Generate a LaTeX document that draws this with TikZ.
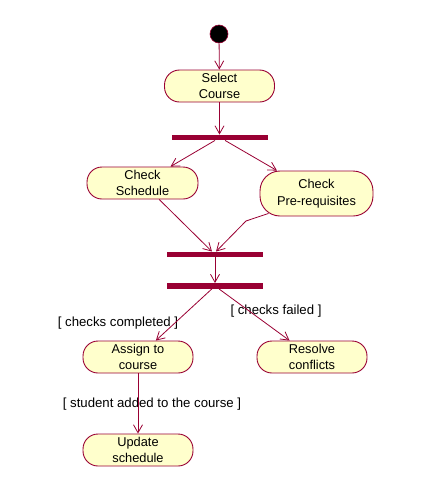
\documentclass[tikz,border=0pt]{standalone}
\usepackage{fontspec}
\setmainfont{Liberation Sans}
\usetikzlibrary{arrows.meta,calc}
\definecolor{umlline}{RGB}{153,0,51}
\definecolor{umlfill}{RGB}{255,255,204}
\begin{document}
\begin{tikzpicture}[x=1pt,y=-1pt,
  act/.style={draw=umlline,fill=umlfill,line width=0.9pt,rectangle,rounded corners=15pt,
    minimum width=110pt,minimum height=32pt,inner sep=0pt,align=center,
    font=\fontsize{12.8}{16.5}\selectfont},
  syncbar/.style={fill=umlline,draw=none,rectangle,minimum width=96pt,minimum height=5.5pt,inner sep=0pt},
  flow/.style={draw=umlline,line width=0.8pt,-{Straight Barb[length=8pt,width=9pt,line width=0.8pt]}},
  guard/.style={font=\fontsize{13.2}{15}\selectfont,inner sep=0pt}]
\useasboundingbox (0,0) rectangle (447,496);
\node[circle,fill=black,draw=umlline,line width=0.6pt,minimum size=18pt,inner sep=0pt] (start) at (219,34) {};
\node[act] (sc) at (219.5,86) {Select\\Course};
\node[syncbar] (bar1) at (220,137.5) {};
\node[act,minimum width=111pt] (cs) at (142.5,183) {Check\\Schedule};
\node[act,minimum width=113pt,minimum height=45pt,rounded corners=20pt] (pr) at (316.5,193.5) {Check\\Pre-requisites};
\node[syncbar] (bar2) at (215,254.5) {};
\node[syncbar] (bar3) at (215,286) {};
\node[act] (asg) at (138,357) {Assign to\\course};
\node[act] (res) at (312,357) {Resolve\\conflicts};
\node[act] (upd) at (138,450) {Update\\schedule};
\node[guard] (g1) at (118,323) {[ checks completed ]};
\node[guard] (g2) at (276,311) {[ checks failed ]};
\node[guard] (g3) at (152,404) {[ student added to the course ]};
\coordinate (prout) at ($(pr.south)+(-48,-3)$);
\coordinate (bend) at (246,221);
\draw[flow] (start) -- (sc);
\draw[flow] (sc) -- (sc |- bar1.north);
\draw[flow] (bar1) -- (cs);
\draw[flow] (bar1) -- (pr);
\draw[flow] (cs) -- ($(bar2.north)+(-3,0)$);
\draw[flow] (prout) -- (bend) -- ($(bar2.north)+(1,0)$);
\draw[flow] (bar2) -- (bar3);
\draw[flow] (bar3) -- (asg);
\draw[flow] (bar3) -- (res);
\draw[flow] (asg) -- (upd);
\end{tikzpicture}
\end{document}
